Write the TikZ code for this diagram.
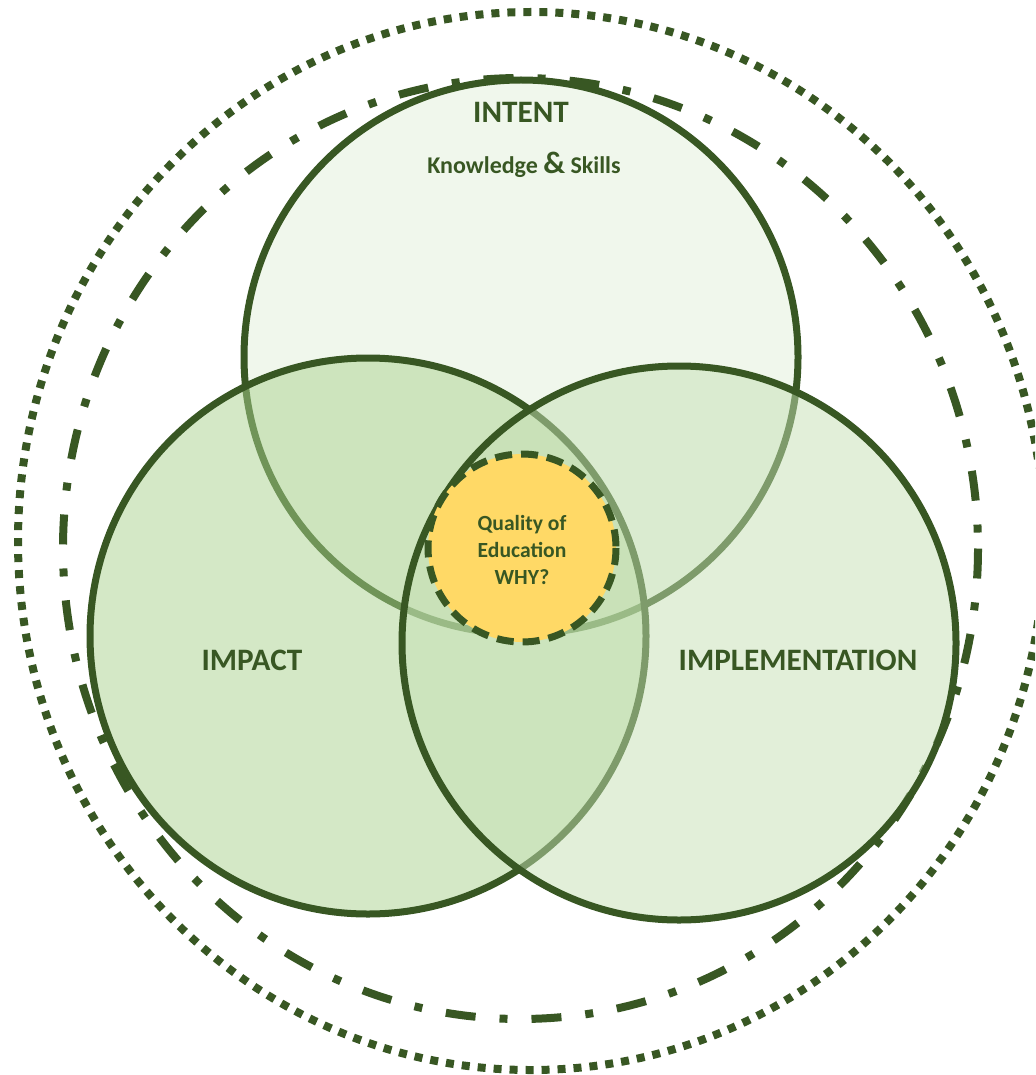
\documentclass[tikz,border=0pt]{standalone}
\usepackage{fontspec}
\setmainfont{Carlito}

\definecolor{leafdark}{HTML}{385723}
\definecolor{greenpale}{HTML}{E2F0D9}
\definecolor{greenlight}{HTML}{C5E0B4}
\definecolor{greenmid}{HTML}{A9D18E}
\definecolor{gold}{HTML}{FFD966}

\tikzset{
  venn/.style={draw=leafdark, line width=3.5pt, fill opacity=0.5},
  heading/.style={text=leafdark, font=\bfseries\fontsize{15.6}{18}\selectfont},
  subheading/.style={text=leafdark, font=\bfseries\fontsize{12}{14}\selectfont},
}

\begin{document}
\begin{tikzpicture}[x=0.5pt,y=-0.5pt]
\clip (0,0) rectangle (1035,1075);

% outer rings
\draw[leafdark, line width=4pt, dash pattern=on 4pt off 4pt] (531,541) ellipse [x radius=513, y radius=529];
\draw[leafdark, line width=4pt, dash pattern=on 15pt off 12pt on 4pt off 12pt] (520.5,548.5) ellipse [x radius=457.5, y radius=470.5];

% the three circles
\draw[venn, fill=greenpale] (521,357) circle [radius=277];
\draw[venn, fill=greenmid] (368,636) circle [radius=278];
\draw[venn, fill=greenlight] (679,643) circle [radius=277];

% centre
\draw[fill=gold, draw=leafdark, line width=3.5pt, dash pattern=on 8.5pt off 4.5pt] (522,548) circle [radius=94];

\node[heading, anchor=base] (intent) at (521,123) {INTENT};
\node[subheading, anchor=base] (skills) at (524,174) {Knowledge {\fontsize{15.5}{18}\selectfont\&} Skills};
\node[heading, anchor=base] (impact) at (252,670) {IMPACT};
\node[heading, anchor=base] (implementation) at (798,670) {IMPLEMENTATION};
\node[align=center, text=leafdark, font=\bfseries\fontsize{10.8}{13.5}\selectfont] (quality) at (522,550) {Quality of\\Education\\WHY?};
\end{tikzpicture}
\end{document}
